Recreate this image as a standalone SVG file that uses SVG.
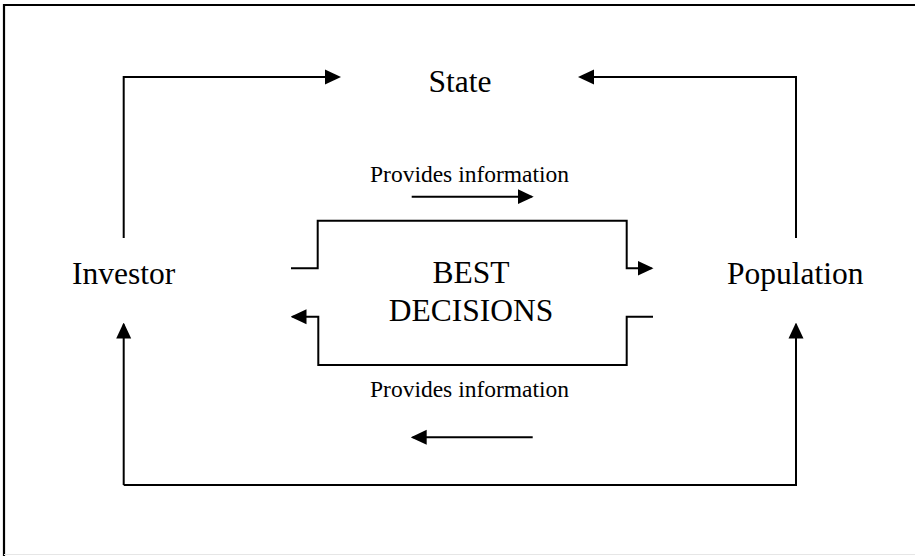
<svg xmlns="http://www.w3.org/2000/svg" width="915" height="556" viewBox="0 0 915 556">
  <style>
    .ln { fill: none; stroke: #000; stroke-width: 2; }
    .big { font-family: "Liberation Serif", "Times New Roman", serif; font-size: 31.5px; fill: #000; }
    .small { font-family: "Liberation Serif", "Times New Roman", serif; font-size: 23.5px; fill: #000; }
  </style>
  <defs>
    <marker id="arr" markerUnits="userSpaceOnUse" markerWidth="16" markerHeight="16" refX="14" refY="7.5" orient="auto" viewBox="0 0 16 15">
      <path d="M0,0 L16,7.5 L0,15 Z" fill="#000"/>
    </marker>
  </defs>
  <rect width="915" height="556" fill="#fff"/>
  <g id="frame">
    <path d="M4,556 L4,5 L915,5" fill="none" stroke="#000" stroke-width="2.2"/>
    <line x1="4" y1="554.5" x2="915" y2="554.5" stroke="#e6e6e6" stroke-width="1"/>
  </g>
  <g id="state"><text class="big" x="460" y="92" text-anchor="middle">State</text></g>
  <g id="investor"><text class="big" x="72" y="284">Investor</text></g>
  <g id="population"><text class="big" x="727" y="284">Population</text></g>
  <g id="best-decisions">
    <text class="big" x="471" y="283" text-anchor="middle">BEST</text>
    <text class="big" x="471" y="321" text-anchor="middle">DECISIONS</text>
  </g>
  <g id="label-top"><text class="small" x="370" y="181.5">Provides information</text></g>
  <g id="label-bottom"><text class="small" x="370" y="396.5">Provides information</text></g>
  <g id="connectors">
    <polyline class="ln" points="123.7,238 123.7,77 339,77" marker-end="url(#arr)"/>
    <polyline class="ln" points="796,238 796,77 580,77" marker-end="url(#arr)"/>
    <polyline class="ln" points="123.7,485 123.7,324.5" marker-end="url(#arr)"/>
    <polyline class="ln" points="123.7,485 796,485 796,324.5" marker-end="url(#arr)"/>
    <polyline class="ln" points="291,268.3 317.7,268.3 317.7,220.7 626.7,220.7 626.7,268.3 651.5,268.3" marker-end="url(#arr)"/>
    <polyline class="ln" points="653,316.7 626.7,316.7 626.7,365 318.3,365 318.3,316.7 292.5,316.7" marker-end="url(#arr)"/>
    <line class="ln" x1="411.7" y1="196.7" x2="531.7" y2="196.7" marker-end="url(#arr)"/>
    <line class="ln" x1="532.7" y1="437.3" x2="412.7" y2="437.3" marker-end="url(#arr)"/>
  </g>
</svg>
